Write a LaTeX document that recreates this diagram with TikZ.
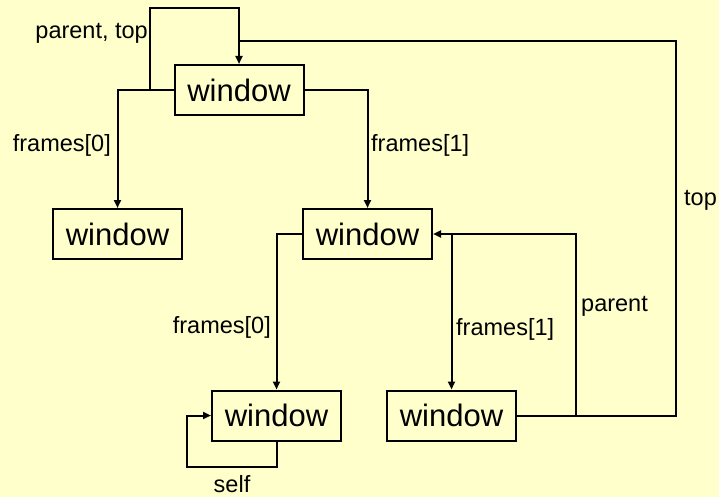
\documentclass[tikz,border=0pt]{standalone}
\usepackage{fontspec}
\setmainfont{Liberation Sans}
\usetikzlibrary{arrows.meta}
\definecolor{bgyellow}{RGB}{255,255,204}
\tikzset{
  win/.style={draw=black, line width=2pt, minimum width=129pt, minimum height=50pt,
    inner sep=0pt, font=\fontsize{31}{36}\selectfont},
  conn/.style={draw=black, line width=2pt},
  arr/.style={conn, -{Triangle[length=8pt,width=7pt]}},
  lbl/.style={font=\fontsize{23.5}{28}\selectfont, inner sep=0pt}
}
\begin{document}
\begin{tikzpicture}[x=1pt,y=-1pt]
\fill[bgyellow] (0,0) rectangle (719,497);
\useasboundingbox (0,0) rectangle (719,497);
\node[win] (top) at (239,90) {window};
\node[win] (w1) at (117.5,234) {window};
\node[win] (w2) at (367.5,234) {window};
\node[win] (w3) at (276.5,415.5) {window};
\node[win] (w4) at (451.5,415.5) {window};
% parent, top loop
\draw[arr] (top.west) -- ++(-24,0) |- (top.north |- 0,8) -- (top.north);
% top from w4
\draw[conn] (w4.east) -| (676,41) -- (top.north |- 0,41);
% frames
\draw[arr] (top.west) -| (w1.north);
\draw[arr] (top.east) -| (w2.north);
\draw[arr] (w2.west) -| (w3.north);
\draw[arr] (w4.north |- w2.east) -- (w4.north);
% parent
\draw[arr] (w4.east) -- ++(59,0) |- (w2.east);
% self
\draw[arr] (w3.south) -- ++(0,25) -| ([xshift=-24pt]w3.west) -- (w3.west);
% labels
\node[lbl, anchor=east] (l1) at (148,33) {parent, top};
\node[lbl, anchor=east] (l2) at (111,145) {frames[0]};
\node[lbl, anchor=west] (l3) at (371,145) {frames[1]};
\node[lbl, anchor=west] (l4) at (684,200) {top};
\node[lbl, anchor=west] (l5) at (581,306) {parent};
\node[lbl, anchor=west] (l6) at (456,329) {frames[1]};
\node[lbl, anchor=east] (l7) at (271,327) {frames[0]};
\node[lbl] (l8) at (232,484) {self};
\end{tikzpicture}
\end{document}
